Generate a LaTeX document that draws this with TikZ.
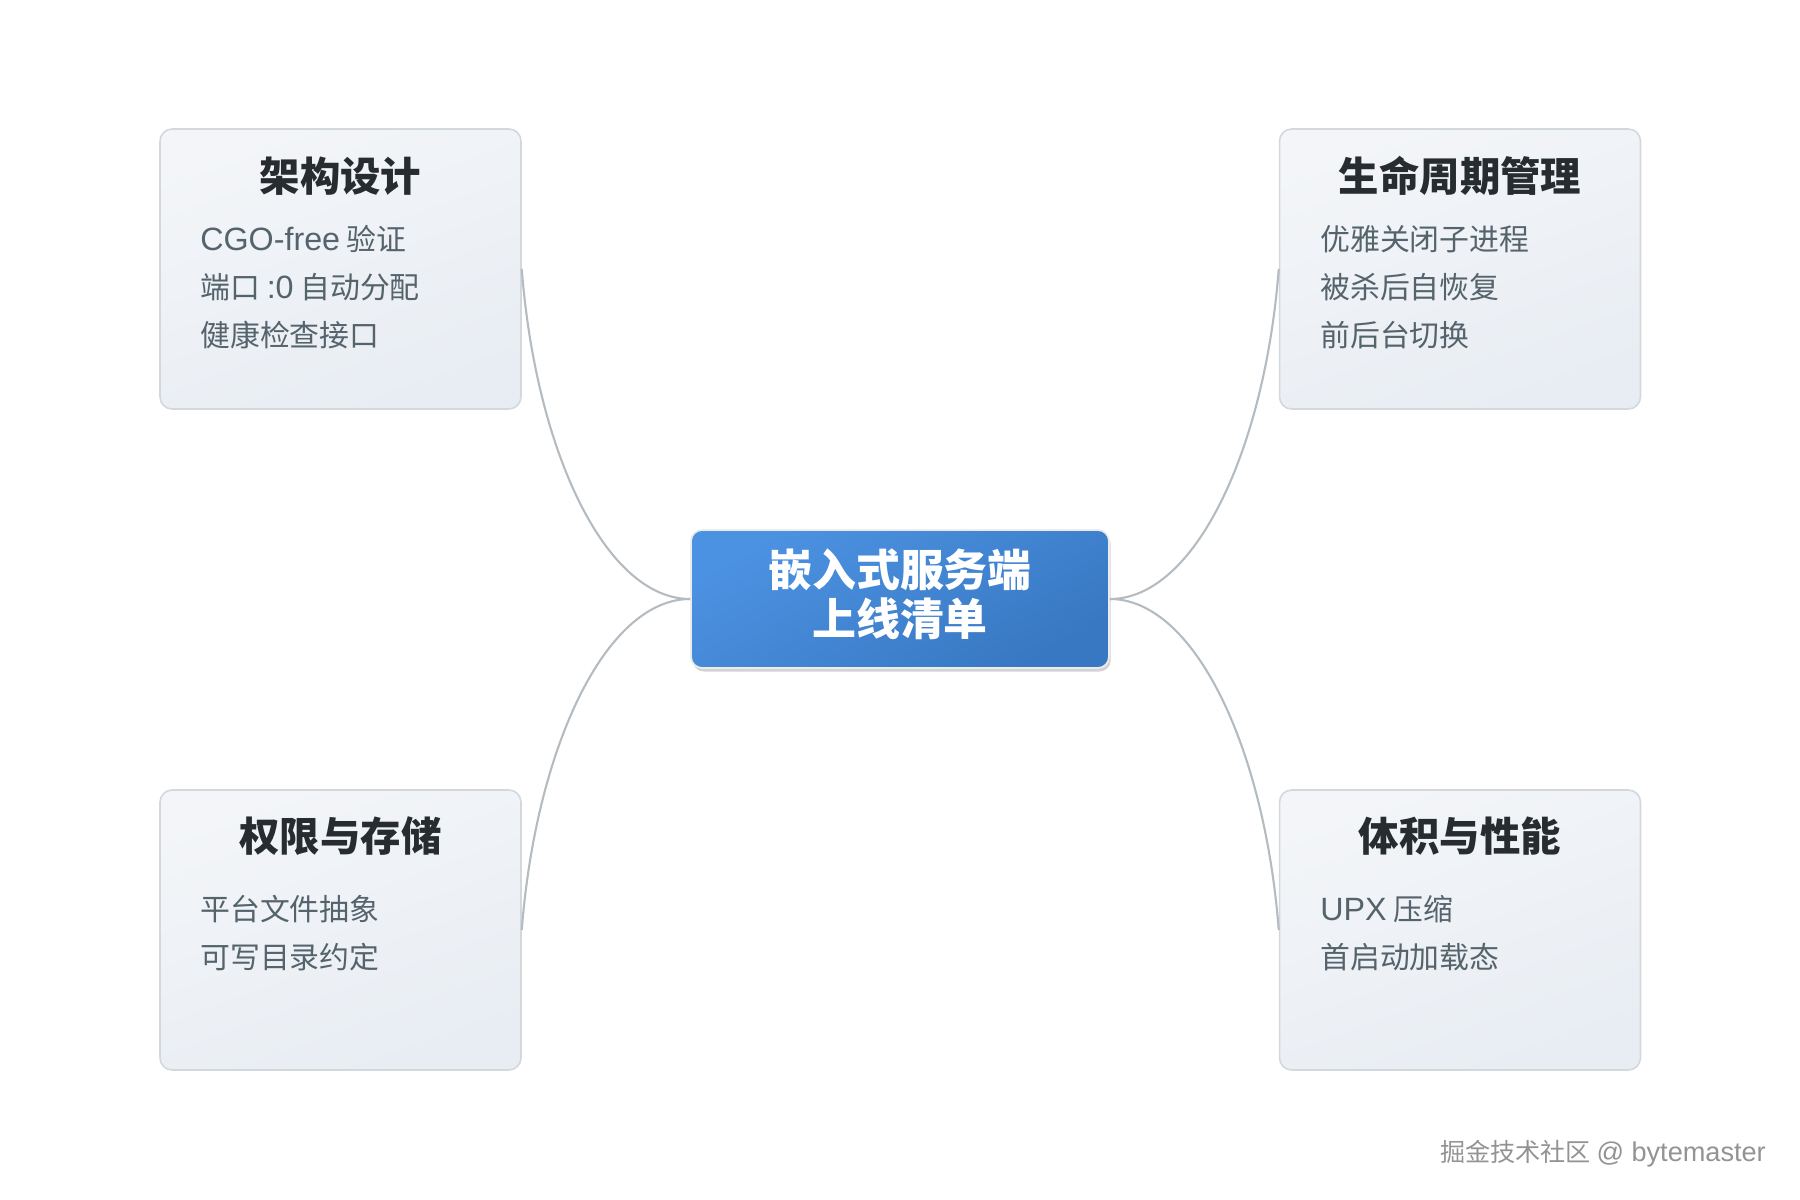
\documentclass[tikz,border=0pt]{standalone}
\usepackage{fontspec}
\setmainfont{Noto Sans CJK SC}
\newfontfamily\latinfont[Scale=1.08]{Liberation Sans}
\usetikzlibrary{shadows}
\definecolor{linkgray}{HTML}{B4BCC1}
\definecolor{cardtop}{HTML}{F3F5F8}
\definecolor{cardbot}{HTML}{E8EDF3}
\definecolor{cardline}{HTML}{D3D8DD}
\definecolor{hubtop}{HTML}{4C92E2}
\definecolor{hubbot}{HTML}{3878C2}
\definecolor{titlecol}{HTML}{262C30}
\definecolor{itemcol}{HTML}{55646C}
\newcommand{\lat}[1]{{\latinfont #1}}
\tikzset{
  card/.style={draw=cardline, line width=0.9pt, rounded corners=0.24cm,
    top color=cardtop, bottom color=cardbot, shading angle=20,
    minimum width=7.22cm, minimum height=5.6cm, inner sep=0pt},
  hub/.style={draw=white!85!gray, line width=1pt, rounded corners=0.22cm,
    shading=axis, top color=hubtop, bottom color=hubbot, shading angle=30,
    drop shadow={shadow xshift=1pt, shadow yshift=-2pt, opacity=0.35, fill=gray},
    minimum width=8.36cm, minimum height=2.76cm, inner sep=0pt},
  hubtext/.style={text=white, align=center, font=\fontsize{25}{28}\selectfont\bfseries},
  title/.style={text=titlecol, font=\fontsize{23}{26}\selectfont\bfseries},
  item/.style={text=itemcol, anchor=west, inner sep=0pt, font=\fontsize{17}{20}\selectfont},
  link/.style={draw=linkgray, line width=1.2pt},
}
\begin{document}
\begin{tikzpicture}[x=0.02cm, y=-0.02cm]
      \useasboundingbox (0,0) rectangle (1800,1200);
      \node[hub] (hub) at (900,599) {};
      \node[hubtext] (hubt) at (900,594) {嵌入式服务端\\上线清单};
      \node[card] (arch) at (340.5,269) {};
      \node[card] (life) at (1460,269) {};
      \node[card] (perm) at (340.5,930) {};
      \node[card] (size) at (1460,930) {};
      \node[title] (archt) at (340.5,176) {架构设计};
      \node[item] (arch1) at (200,239) {\lat{CGO-free} 验证};
      \node[item] (arch2) at (200,287) {端口 \lat{:0} 自动分配};
      \node[item] (arch3) at (200,335) {健康检查接口};
      \node[title] (lifet) at (1460,176) {生命周期管理};
      \node[item] (life1) at (1320,239) {优雅关闭子进程};
      \node[item] (life2) at (1320,287) {被杀后自恢复};
      \node[item] (life3) at (1320,335) {前后台切换};
      \node[title] (permt) at (340.5,836) {权限与存储};
      \node[item] (perm1) at (200,909) {平台文件抽象};
      \node[item] (perm2) at (200,957) {可写目录约定};
      \node[title] (sizet) at (1460,836) {体积与性能};
      \node[item] (size1) at (1320,909) {\lat{UPX} 压缩};
      \node[item] (size2) at (1320,957) {首启动加载态};
      \node[anchor=east, text=gray!85, font=\fontsize{14.3}{17}\selectfont] (mark)
        at (1772,1154) {掘金技术社区 \lat{@ bytemaster}};
      \begin{scope}
        \draw[link] (hub.west) .. controls +(-85,0) and +(14,181) .. (arch.east);
        \draw[link] (hub.west) .. controls +(-85,0) and +(14,-181) .. (perm.east);
        \draw[link] (hub.east) .. controls +(85,0) and +(-14,181) .. (life.west);
        \draw[link] (hub.east) .. controls +(85,0) and +(-14,-181) .. (size.west);
      \end{scope}
    \end{tikzpicture}
\end{document}
